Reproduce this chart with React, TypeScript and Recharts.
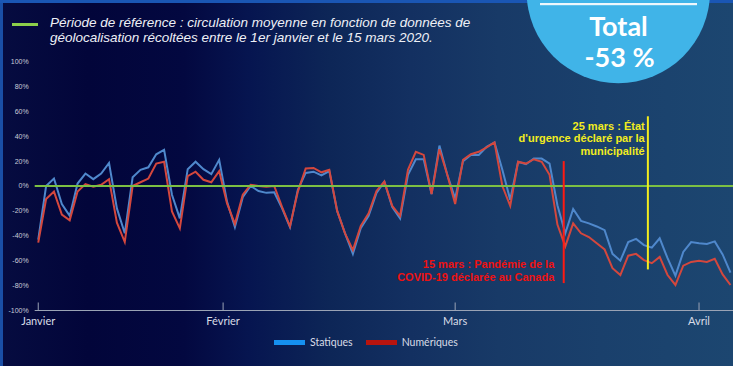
import {
  LineChart,
  Line,
  XAxis,
  YAxis,
  Legend,
  ReferenceLine,
  ReferenceDot,
} from "recharts";

// Variation quotidienne de la circulation (%), par rapport à la période de référence
const STATIQUES = [
  -43, 0, 6, -14.5, -24, 2, 10, 5.5, 10, 18.5, -18, -38, 7, 13, 15, 25.5, 29, -7, -26,
  13.5, 19.5, 13.5, 9.5, 21, -12.5, -33, -9, 0, -4, -5.5, -5, -18, -33, -3, 10.5, 11.5,
  8.5, 12, -20, -38, -54.5, -34, -24, -5.5, 3.5, -17, -26, 9, 21.5, 21.5, -6.5, 32.5, 9,
  -10, 20, 25, 25, 31.5, 35, 13, -11, 19.5, 17.5, 22, 22, 18, -15.5, -38, -18.5, -28,
  -30, -32.5, -35.5, -54.5, -60, -45, -42.5, -47.5, -49.5, -42, -58, -72, -53, -45, -46,
  -46.5, -44.5, -55, -69.5,
];

const NUMERIQUES = [
  -45.5, -10.5, -4.5, -23, -27.5, -4.5, 1.5, -0.5, 1, 5.5, -29.5, -45, 0, 3, 6, 18, 19.5,
  -20.5, -34, 8, 11.5, 5, 3, 12, -14, -30.5, -7, 1, 0, -0.5, 0, -17, -32.5, -4.5, 14,
  14.5, 11, 13, -20, -38, -51.5, -32, -22, -4, 3.5, -16, -24, 13, 27.5, 25, -6.5, 29.5, 9,
  -14.5, 21, 25.5, 27.5, 31, 35, 0, -16, 19.5, 18, 21.5, 19.5, 9, -31, -48.5, -30, -38,
  -41, -46, -51, -66, -71.5, -56, -54.5, -59.5, -62, -57, -71.5, -79.5, -64, -61, -60,
  -61, -58.5, -71, -79.5,
];

const MONTH_TICKS = [0, 23.5, 53, 84];
const MONTH_LABELS = ["Janvier", "Février", "Mars", "Avril"];
const Y_TICKS = [-100, -80, -60, -40, -20, 0, 20, 40, 60, 80, 100];

// événements : position sur l'axe des jours, étendue verticale du trait (%)
const PANDEMIE = { day: 66.8, from: 20, to: -78 };
const URGENCE = { day: 77.5, from: 56, to: -67 };
const PANDEMIE_TEXT = ["15 mars : Pandémie de la", "COVID-19 déclarée au Canada"];
const URGENCE_TEXT = ["25 mars : État", "d'urgence déclaré par la", "municipalité"];

const TOTAL_LABEL = "Total";
const TOTAL_VALUE = "-53 %";

const LEGEND_ITEMS = [
  { label: "Statiques", color: "#1590f0" },
  { label: "Numériques", color: "#b8140e" },
];

const rows = STATIQUES.map((v, i) => ({ i, statiques: v, numeriques: NUMERIQUES[i] }));

const BLUE = "#4f88cc";
const RED = "#d4473d";
const LABEL_FONT = "Lato, 'Open Sans', sans-serif";
const ARIAL = "'Liberation Sans', Arial, sans-serif";

const MonthTick = (props: any) => {
  const { x, y, payload } = props;
  const idx = MONTH_TICKS.indexOf(payload.value);
  return (
    <g>
      <line x1={x} x2={x} y1={y - 8} y2={y} stroke="#9aa3b5" strokeWidth={1} />
      <text x={x} y={y + 14.5} textAnchor="middle" fill="#d8dce6" fontSize={11} fontFamily={LABEL_FONT}>
        {MONTH_LABELS[idx]}
      </text>
    </g>
  );
};

const EventNote = (props: any) => {
  const { cx, cy, lines, color } = props;
  return (
    <text x={cx} y={cy} textAnchor="end" fill={color} fontSize={11} fontWeight="bold" fontFamily={ARIAL}>
      {lines.map((l: string, k: number) => (
        <tspan key={k} x={cx} dy={k === 0 ? 0 : 12.5}>
          {l}
        </tspan>
      ))}
    </text>
  );
};

const LegendBar = () => (
  <div style={{ display: "flex", alignItems: "center", height: 22, gap: 13 }}>
    {LEGEND_ITEMS.map((it) => (
      <div key={it.label} style={{ display: "flex", alignItems: "center", gap: 5 }}>
        <span style={{ width: 31, height: 5, background: it.color }} />
        <span style={{ color: "#d8dce6", fontSize: 10.5, fontFamily: LABEL_FONT }}>{it.label}</span>
      </div>
    ))}
  </div>
);

export default function App() {
  return (
    <div
      style={{
        position: "absolute",
        left: 0,
        top: 0,
        width: 733,
        height: 366,
        overflow: "hidden",
        background:
          "linear-gradient(90deg, #060c40 0%, #02053a 12%, #030840 25%, #061550 34%, #0d2657 45%, #133061 56%, #183a67 68%, #1a406c 82%, #1c4670 100%)",
      }}
    >
      <div style={{ position: "absolute", left: 0, top: 0, width: 3, height: 366, background: "#1a4fa6" }} />
      <div style={{ position: "absolute", left: 0, top: 0, width: 733, height: 3, background: "#1a56b4" }} />

      <LineChart width={733} height={366} data={rows} margin={{ top: 61.5, right: 0, bottom: 13, left: 0 }}>
        <XAxis
          dataKey="i"
          type="number"
          domain={[-0.45, 88.32]}
          allowDataOverflow
          ticks={MONTH_TICKS}
          interval={0}
          tick={<MonthTick />}
          tickLine={false}
          tickSize={0}
          tickMargin={0}
          axisLine={{ stroke: "#9aa3b5", strokeWidth: 1 }}
          height={20.5}
        />
        <YAxis
          type="number"
          domain={[-100, 100]}
          ticks={Y_TICKS}
          interval={0}
          width={34.7}
          axisLine={false}
          tickLine={false}
          tickSize={0}
          tickMargin={6}
          tick={{ fontSize: 7, fill: "#c9cdd8", fontFamily: ARIAL }}
          tickFormatter={(v) => `${v}%`}
        />
        <Legend
          verticalAlign="bottom"
          content={<LegendBar />}
          wrapperStyle={{ left: 274, width: 220, height: 22 }}
        />
        <Line
          dataKey="statiques"
          name="Statiques"
          type="linear"
          stroke={BLUE}
          strokeWidth={2}
          dot={false}
          isAnimationActive={false}
        />
        <Line
          dataKey="numeriques"
          name="Numériques"
          type="linear"
          stroke={RED}
          strokeWidth={2}
          dot={false}
          isAnimationActive={false}
        />
        <ReferenceLine y={0} stroke="#7cc043" strokeWidth={2} />
        <ReferenceLine
          segment={[
            { x: PANDEMIE.day, y: PANDEMIE.from },
            { x: PANDEMIE.day, y: PANDEMIE.to },
          ]}
          stroke="#ff1a12"
          strokeWidth={2}
        />
        <ReferenceLine
          segment={[
            { x: URGENCE.day, y: URGENCE.from },
            { x: URGENCE.day, y: URGENCE.to },
          ]}
          stroke="#f2ec1e"
          strokeWidth={2}
        />
        <ReferenceDot
          x={65.6}
          y={-66}
          r={0}
          shape={(p: any) => <EventNote {...p} lines={PANDEMIE_TEXT} color="#ee1111" />}
        />
        <ReferenceDot
          x={77.1}
          y={45}
          r={0}
          shape={(p: any) => <EventNote {...p} lines={URGENCE_TEXT} color="#f2ec1e" />}
        />
      </LineChart>

      <svg width={733} height={366} style={{ position: "absolute", left: 0, top: 0, pointerEvents: "none" }}>
        {/* pastille du total */}
        <circle cx={618.3} cy={-8.4} r={91.7} fill="#40b4e8" />
        <rect x={540} y={3} width={157} height={2.2} fill="#eef7fc" />
        <text x={618.5} y={36} textAnchor="middle" fill="#ffffff" fontSize={27} fontWeight={700} fontFamily={LABEL_FONT}>
          {TOTAL_LABEL}
        </text>
        <text x={619.5} y={66.5} textAnchor="middle" fill="#ffffff" fontSize={27} fontWeight={700} fontFamily={LABEL_FONT}>
          {TOTAL_VALUE}
        </text>

        {/* légende de la période de référence */}
        <rect x={12} y={23} width={26} height={3} fill="#8ccf4a" />
        <text fill="#eef0f6" fontSize={13.5} fontStyle="italic" fontFamily={ARIAL}>
          <tspan x={50} y={27}>
            Période de référence : circulation moyenne en fonction de données de
          </tspan>
          <tspan x={50} y={42}>
            géolocalisation récoltées entre le 1er janvier et le 15 mars 2020.
          </tspan>
        </text>
      </svg>
    </div>
  );
}
